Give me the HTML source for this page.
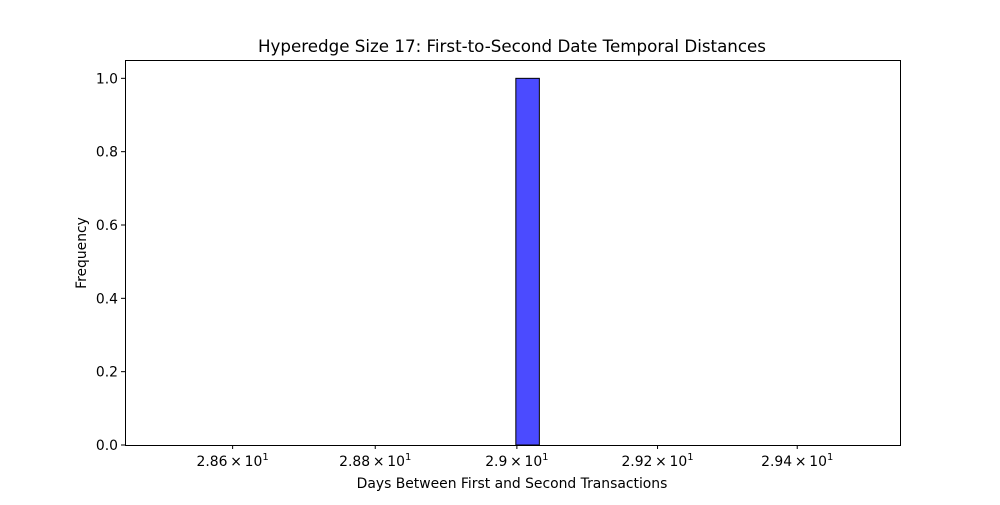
<!DOCTYPE html>
<html><head><meta charset="utf-8"><style>
body{margin:0;background:#fff;}
svg text{font-family:"DejaVu Sans","Liberation Sans",sans-serif;fill:#000;}
</style></head><body>
<svg id="chart" width="1000" height="500" xmlns="http://www.w3.org/2000/svg">
<text x="512" y="52" font-size="16.7" text-anchor="middle">Hyperedge Size 17: First-to-Second Date Temporal Distances</text>
<g id="bars"></g>
<rect x="125.5" y="60.5" width="775" height="385" fill="none" stroke="#000" stroke-width="1"/>
<g id="xticks"></g>
<g id="yticks"></g>
<text x="512" y="488" font-size="13.9" text-anchor="middle">Days Between First and Second Transactions</text>
<text x="0" y="0" font-size="13.9" text-anchor="middle" transform="translate(86,253) rotate(-90)">Frequency</text>
</svg>
<script>
const binStart = 28.5;
const binEnd = 29.5;
const binCount = 30;
const counts = [0,0,0,0,0,0,0,0,0,0,0,0,0,0,0,1,0,0,0,0,0,0,0,0,0,0,0,0,0,0];
const xTickValues = [28.6, 28.8, 29.0, 29.2, 29.4];
const xTickLabels = ["2.86", "2.88", "2.9", "2.92", "2.94"];
const yTickValues = [0, 0.2, 0.4, 0.6, 0.8, 1.0];
const yTickLabels = ["0.0", "0.2", "0.4", "0.6", "0.8", "1.0"];

const NS = "http://www.w3.org/2000/svg";
const L = 125, R = 900, T = 60, B = 445;
const xMin = Math.log10(28.45), xMax = Math.log10(29.548);
const yMax = 1.05;
function xs(v){ return L + (Math.log10(v) - xMin) / (xMax - xMin) * (R - L); }
function ys(v){ return B - v / yMax * (B - T); }
function mk(tag, attrs, parent){ const e = document.createElementNS(NS, tag); for (const k in attrs) e.setAttribute(k, attrs[k]); parent.appendChild(e); return e; }

const bars = document.getElementById('bars');
const lb0 = Math.log10(binStart), lb1 = Math.log10(binEnd);
counts.forEach((c, i) => {
  const x0 = xs(Math.pow(10, lb0 + (lb1 - lb0) * i / binCount)) + 2;
  const x1 = xs(Math.pow(10, lb0 + (lb1 - lb0) * (i + 1) / binCount)) + 2;
  const r = mk('rect', {x: x0, y: ys(c), width: x1 - x0, height: ys(0) - ys(c), fill: '#4b4bff', stroke: '#000', 'stroke-width': c > 0 ? 1 : 0.4}, bars);
  
  
});

const xg = document.getElementById('xticks');
xTickValues.forEach((v, i) => {
  const x = xs(v);
  mk('line', {x1: x, x2: x, y1: B, y2: B + 4, stroke: '#000'}, xg);
  const t = mk('text', {x: x, y: B + 21, 'font-size': 13.9, 'text-anchor': 'middle'}, xg);
  
  
  t.innerHTML = xTickLabels[i] + '\u2009\u00d7\u200910<tspan dy="-6" font-size="10">1</tspan>';
});

const yg = document.getElementById('yticks');
yTickValues.forEach((v, i) => {
  const y = ys(v);
  mk('line', {x1: L - 4, x2: L, y1: y, y2: y, stroke: '#000'}, yg);
  const t = mk('text', {x: L - 7, y: y + 5, 'font-size': 13.9, 'text-anchor': 'end'}, yg);
  
  
  t.textContent = yTickLabels[i];
});
</script>
</body></html>
